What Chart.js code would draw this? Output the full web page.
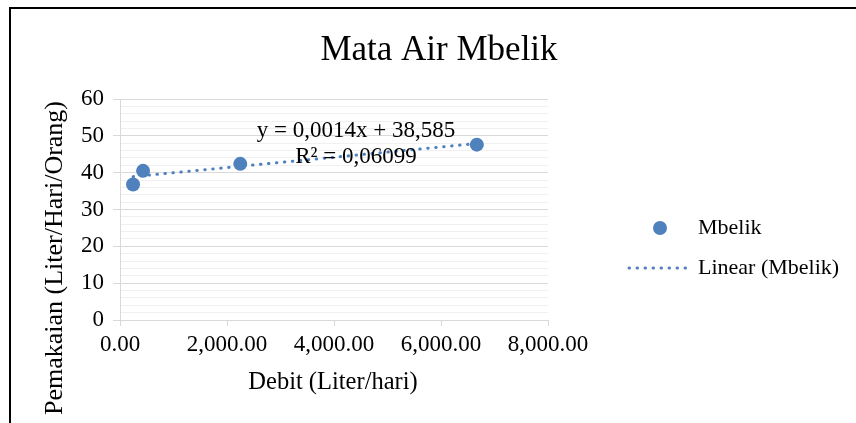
<!DOCTYPE html>
<html>
<head>
<meta charset="utf-8">
<script src="https://cdn.jsdelivr.net/npm/chart.js@4/dist/chart.umd.min.js"></script>
<style>
  body { margin: 0; background: #fff; }
  canvas { display: block; }
</style>
</head>
<body>
<canvas id="myChart" width="856" height="423"></canvas>
<script>
// data
var debit = [244, 431, 2248, 6670];
var pemakaian = [36.8, 40.5, 42.4, 47.6];
var trendSlope = 0.0014;
var trendIntercept = 38.585;
var trendLabel = ['y = 0,0014x + 38,585', 'R² = 0,06099'];
var xTicks = [0, 2000, 4000, 6000, 8000];
var yTicks = [0, 10, 20, 30, 40, 50, 60];

var blue = '#4f81bd';
var serif = "'Liberation Serif', 'Times New Roman', serif";

var points = debit.map(function (x, i) { return { x: x, y: pemakaian[i] }; });
var xMin = Math.min.apply(null, debit);
var xMax = Math.max.apply(null, debit);
var trend = [
  { x: xMin, y: trendSlope * xMin + trendIntercept },
  { x: xMax, y: trendSlope * xMax + trendIntercept }
];

// titles, equation, legend and the frame line
var extras = {
  id: 'extras',
  afterDraw: function (chart) {
    var c = chart.ctx;
    var xs = chart.scales.x, ys = chart.scales.y;
    c.save();
    c.fillStyle = '#000';

    // frame
    c.strokeStyle = '#000';
    c.lineWidth = 2;
    c.beginPath();
    c.moveTo(10, 423);
    c.lineTo(10, 8);
    c.lineTo(856, 8);
    c.stroke();

    c.textAlign = 'center';
    c.textBaseline = 'alphabetic';
    c.font = '35px ' + serif;
    c.fillText('Mata Air Mbelik', 439, 60);

    c.textBaseline = 'middle';
    c.font = '24.5px ' + serif;
    c.fillText('Debit (Liter/hari)', 333, 383);

    c.save();
    c.translate(55, 258);
    c.rotate(-Math.PI / 2);
    c.font = '26px ' + serif;
    c.fillText('Pemakaian (Liter/Hari/Orang)', 0, 0);
    c.restore();

    // equation label
    c.font = '23px ' + serif;
    c.fillText(trendLabel[0], xs.getPixelForValue(4410), ys.getPixelForValue(51.4));
    c.fillText(trendLabel[1], xs.getPixelForValue(4410), ys.getPixelForValue(44.2));

    // legend
    c.fillStyle = blue;
    c.beginPath();
    c.arc(660, 228, 7, 0, Math.PI * 2);
    c.fill();
    c.strokeStyle = blue;
    c.lineWidth = 3;
    c.lineCap = 'round';
    c.setLineDash([0.5, 7.5]);
    c.beginPath();
    c.moveTo(629, 268);
    c.lineTo(690, 268);
    c.stroke();
    c.setLineDash([]);

    c.fillStyle = '#000';
    c.textAlign = 'left';
    c.font = '22px ' + serif;
    c.fillText('Mbelik', 698, 228);
    c.fillText('Linear (Mbelik)', 698, 268);
    c.restore();
  }
};

var ctx = document.getElementById('myChart').getContext('2d');
var myChart = new Chart(ctx, {
  type: 'scatter',
  data: {
    datasets: [{
      label: 'Mbelik',
      data: points,
      backgroundColor: blue,
      borderWidth: 0,
      pointRadius: 7,
      pointHoverRadius: 7,
      order: 1
    }, {
      label: 'Linear (Mbelik)',
      type: 'line',
      data: trend,
      borderColor: blue,
      borderWidth: 3,
      borderDash: [0.5, 7.5],
      borderCapStyle: 'round',
      pointRadius: 0,
      fill: false,
      order: 2
    }]
  },
  options: {
    responsive: false,
    animation: false,
    events: [],
    layout: { padding: { left: 0, right: 308, top: 99, bottom: 0 } },
    plugins: {
      legend: { display: false },
      title: { display: false },
      tooltip: { enabled: false }
    },
    scales: {
      x: {
        type: 'linear',
        min: xTicks[0],
        max: xTicks[xTicks.length - 1],
        afterFit: function (s) { s.height = 103; },
        afterBuildTicks: function (s) { s.ticks = xTicks.map(function (v) { return { value: v }; }); },
        ticks: {
          padding: 5,
          maxRotation: 0,
          color: '#000',
          font: { family: serif, size: 23 },
          callback: function (v) {
            return v.toLocaleString('en-US', { minimumFractionDigits: 2, maximumFractionDigits: 2 });
          }
        },
        grid: { drawOnChartArea: false, tickLength: 6, tickColor: '#d9d9d9' },
        border: { color: '#d9d9d9', width: 1 }
      },
      y: {
        min: yTicks[0],
        max: yTicks[yTicks.length - 1],
        afterFit: function (s) { s.width = 120; },
        ticks: {
          stepSize: 2,
          autoSkip: false,
          padding: 9,
          color: '#000',
          font: { family: serif, size: 23 },
          callback: function (v) { return yTicks.indexOf(v) >= 0 ? v : ''; }
        },
        grid: {
          tickLength: 7,
          color: function (c) { return yTicks.indexOf(c.tick.value) >= 0 ? '#d9d9d9' : '#f0f0f0'; },
          tickColor: function (c) { return yTicks.indexOf(c.tick.value) >= 0 ? '#d9d9d9' : 'rgba(0,0,0,0)'; }
        },
        border: { color: '#d9d9d9', width: 1 }
      }
    }
  },
  plugins: [extras]
});
</script>
</body>
</html>
